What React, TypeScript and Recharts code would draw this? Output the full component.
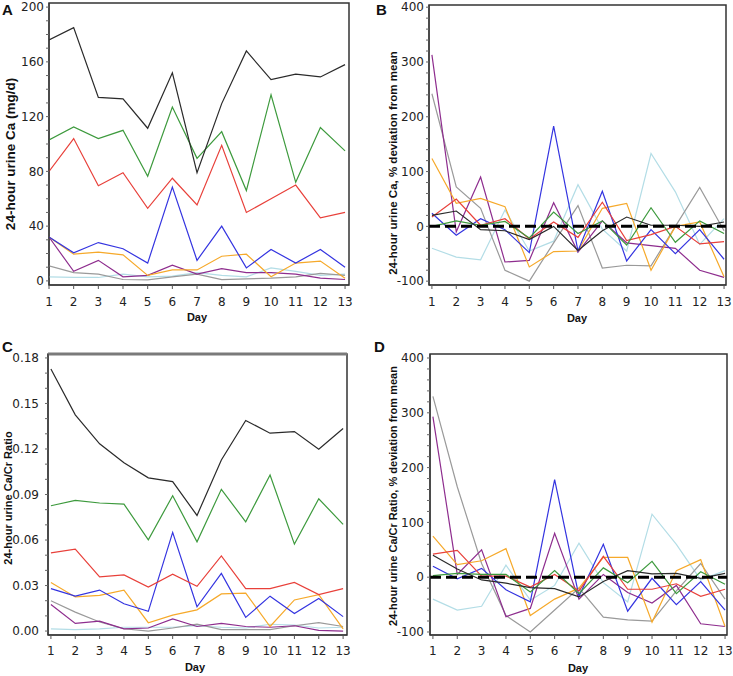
import React from 'react';
import { LineChart, Line, XAxis, YAxis, ReferenceLine, ReferenceArea } from 'recharts';

const days = [1, 2, 3, 4, 5, 6, 7, 8, 9, 10, 11, 12, 13];

// Panel A: 24-hour urine Ca (mg/d)
const caBlack = [176, 185, 134, 133, 111.5, 152, 79, 129.5, 168, 147, 151, 149, 158];
const caGreen = [103, 112.5, 104, 110, 76.5, 127, 89.5, 109, 66, 136, 72, 112, 95];
const caRed = [80, 104, 69.5, 79, 53, 75, 55.5, 99, 50, 60, 70, 46, 50];
const caBlue = [32, 20.5, 28, 23.5, 13, 68.5, 15, 40, 9.5, 23, 13, 23, 10];
const caOrange = [32, 19.5, 21, 19, 4, 8, 8, 18, 19.5, 3, 13, 14.5, 2];
const caPurple = [32, 7, 15, 3, 4, 11.5, 5, 9, 6, 6, 5, 2, 1];
const caGray = [11, 6, 5, 1, 0.7, 3, 5, 1, 1.5, 2, 3, 5.5, 4];
const caLightBlue = [3, 2.5, 2.5, 5, 3, 3.5, 6, 4, 3, 9.5, 7, 4, 5];

// Panel B: 24-hour urine Ca, % deviation from mean
const devBlack = [20, 28, -6, -8, -24, 0, -44, -8, 17, 2, 2, 0, 8];
const devGreen = [0, 10, 2, 9, -21, 26, -13, 10, -34, 34, -29, 10, -13];
const devRed = [17, 50, 2, 14, -23, 8, -20, 44, -26, -15, 0, -32, -28];
const devBlue = [24, -16, 14, -6, -48, 183, -45, 64, -63, -6, -50, -6, -60];
const devOrange = [124, 42, 51, 36, -74, -46, -45, 33, 42, -80, 0, 8, -92];
const devPurple = [313, -10, 90, -65, -62, 43, -47, 10, -30, -35, -40, -80, -93];
const devGray = [242, 72, 33, -80, -100, -30, 38, -76, -71, -72, 0, 71, -8];
const devLightBlue = [-40, -56, -61, 30, -45, -27, 76, -5, -45, 133, 63, -33, 14];

// Panel C: 24-hour urine Ca/Cr ratio
const ratioBlack = [0.1727, 0.1425, 0.1234, 0.111, 0.101, 0.0985, 0.0762, 0.1128, 0.1388, 0.1304, 0.1315, 0.1198, 0.1335];
const ratioGreen = [0.0826, 0.0861, 0.0844, 0.0837, 0.0601, 0.0892, 0.0588, 0.0934, 0.072, 0.1029, 0.0573, 0.0872, 0.0703];
const ratioRed = [0.0515, 0.054, 0.0357, 0.037, 0.029, 0.0375, 0.0295, 0.0495, 0.028, 0.028, 0.032, 0.024, 0.028];
const ratioBlue = [0.028, 0.023, 0.027, 0.018, 0.013, 0.065, 0.016, 0.038, 0.009, 0.023, 0.0115, 0.0215, 0.0095];
const ratioOrange = [0.032, 0.0225, 0.0235, 0.027, 0.0055, 0.0105, 0.014, 0.0245, 0.025, 0.003, 0.0205, 0.024, 0.0015];
const ratioPurple = [0.0175, 0.005, 0.0065, 0.0015, 0.002, 0.008, 0.003, 0.005, 0.003, 0.0025, 0.0035, 0.0005, 0.0];
const ratioGray = [0.02, 0.0125, 0.006, 0.0015, 0.0, 0.002, 0.0045, 0.001, 0.001, 0.001, 0.0035, 0.0055, 0.003];
const ratioLightBlue = [0.0015, 0.001, 0.0015, 0.0025, 0.0025, 0.0025, 0.0035, 0.0025, 0.002, 0.0045, 0.004, 0.002, 0.0025];

// Panel D: 24-hour urine Ca/Cr ratio, % deviation from mean
const rdevBlack = [40, 15, -5, -11, -19, -21, -36, -8, 12, 6, 7, -2, 7];
const rdevGreen = [3, 7, 5, 5, -27, 12, -30, 17, -10, 29, -30, 10, -13];
const rdevRed = [42, 49, 2, 2, -18, 5, -25, 38, -22, -22, -12, -35, -22];
const rdevBlue = [20, -3, 16, -23, -45, 178, -35, 60, -62, -2, -50, -8, -60];
const rdevOrange = [75, 23, 30, 52, -70, -40, -20, 36, 36, -82, 12, 32, -90];
const rdevPurple = [293, 5, 50, -72, -57, 80, -40, 5, -28, -47, -15, -85, -90];
const rdevGray = [330, 165, 25, -70, -100, -60, -20, -73, -78, -80, -25, 25, -40];
const rdevLightBlue = [-40, -60, -53, 22, -42, -15, 62, -10, -45, 115, 60, -5, 12];

const caTicks = [0, 40, 80, 120, 160, 200];
const devTicks = [-100, 0, 100, 200, 300, 400];
const ratioTicks = [0, 0.03, 0.06, 0.09, 0.12, 0.15, 0.18];

const COLORS = {
  lightblue: '#b3dde6',
  gray: '#9a9a9a',
  purple: '#8e2d8e',
  orange: '#f6a92a',
  blue: '#3434e0',
  red: '#e8403a',
  green: '#3d9a3d',
  black: '#2a2a2a',
};

const minorTicks = (lo: number, hi: number, step: number) => {
  const out: number[] = [];
  for (let v = lo; v <= hi + 1e-9; v += step) out.push(Math.round(v * 1e6) / 1e6);
  return out;
};

type S = { key: string; color: string; values: number[] };

const mk = (lb: number[], gy: number[], pu: number[], or: number[], bl: number[], rd: number[], gr: number[], bk: number[]): S[] => [
  { key: 'lightblue', color: COLORS.lightblue, values: lb },
  { key: 'gray', color: COLORS.gray, values: gy },
  { key: 'purple', color: COLORS.purple, values: pu },
  { key: 'orange', color: COLORS.orange, values: or },
  { key: 'blue', color: COLORS.blue, values: bl },
  { key: 'red', color: COLORS.red, values: rd },
  { key: 'green', color: COLORS.green, values: gr },
  { key: 'black', color: COLORS.black, values: bk },
];

const tickFont = { fontSize: 12, fill: '#222', fontFamily: 'DejaVu Sans' };

function Panel(props: any) {
  const {
    left, top, width, height, margin, yWidth, xHeight, xDomain, yDomain,
    yAll, yMajor, yFmt, series, zeroLine, yTickMargin, xTickMargin, thickTop,
  } = props;
  const data = days.map((d, i) => {
    const row: any = { day: d };
    series.forEach((s: S) => { row[s.key] = s.values[i]; });
    return row;
  });
  const isMajor = (v: number) => yMajor.some((m: number) => Math.abs(m - v) < 1e-9);
  return (
    <div style={{ position: 'absolute', left, top, width, height }}>
      <LineChart width={width} height={height} data={data} margin={margin}>
        <XAxis
          dataKey="day"
          type="number"
          domain={xDomain}
          ticks={days}
          allowDataOverflow
          interval={0}
          height={xHeight}
          tickSize={4}
          tickMargin={xTickMargin}
          tick={tickFont}
          axisLine={{ stroke: '#333' }}
          tickLine={{ stroke: '#555' }}
        />
        <YAxis
          type="number"
          domain={yDomain}
          ticks={yAll}
          allowDataOverflow
          interval={0}
          width={yWidth}
          tickSize={3}
          tickMargin={yTickMargin}
          tickFormatter={(v: number) => (isMajor(v) ? yFmt(v) : '')}
          tick={tickFont}
          axisLine={{ stroke: '#333' }}
          tickLine={{ stroke: '#666' }}
        />
        <ReferenceArea
          x1={xDomain[0]}
          x2={xDomain[1]}
          y1={yDomain[0]}
          y2={yDomain[1]}
          fill="none"
          fillOpacity={0}
          stroke="#333"
          strokeWidth={1.5}
          ifOverflow="visible"
        />
        {series.map((s: S) => (
          <Line
            key={s.key}
            type="linear"
            dataKey={s.key}
            stroke={s.color}
            strokeWidth={1.2}
            dot={false}
            activeDot={false}
            isAnimationActive={false}
          />
        ))}
        {zeroLine && (
          <ReferenceLine y={0} stroke="#000" strokeWidth={3} strokeDasharray="11 5" ifOverflow="visible" />
        )}
        {thickTop && (
          <ReferenceLine y={yDomain[1]} stroke="#7a7a7a" strokeWidth={3} ifOverflow="visible" />
        )}
      </LineChart>
    </div>
  );
}

const labelStyle = { fontFamily: 'Liberation Sans, Arial, sans-serif', fontWeight: 700, fill: '#111' } as const;

function VLabel({ x, y, size, text }: { x: number; y: number; size: number; text: string }) {
  return (
    <text
      x={x}
      y={y}
      transform={`rotate(-90 ${x} ${y})`}
      textAnchor="middle"
      dominantBaseline="central"
      fontSize={size}
      style={labelStyle}
    >
      {text}
    </text>
  );
}

export default function App() {
  return (
    <div style={{ position: 'absolute', left: 0, top: 0, width: 733, height: 676, background: '#fff' }}>
      <Panel
        left={0} top={0} width={365} height={335}
        margin={{ top: 3, right: 16, bottom: 0, left: 0 }}
        yWidth={49} xHeight={50}
        xDomain={[1, 13.16]} yDomain={[-3, 203]}
        yAll={minorTicks(0, 200, 10)} yMajor={caTicks} yFmt={(v: number) => String(v)}
        series={mk(caLightBlue, caGray, caPurple, caOrange, caBlue, caRed, caGreen, caBlack)}
        yTickMargin={2} xTickMargin={8}
      />
      <Panel
        left={365} top={0} width={368} height={335}
        margin={{ top: 5, right: 7, bottom: 0, left: 0 }}
        yWidth={64} xHeight={50}
        xDomain={[0.88, 13.08]} yDomain={[-107, 404]}
        yAll={minorTicks(-100, 400, 20)} yMajor={devTicks} yFmt={(v: number) => String(v)}
        series={mk(devLightBlue, devGray, devPurple, devOrange, devBlue, devRed, devGreen, devBlack)}
        zeroLine yTickMargin={2} xTickMargin={8}
      />
      <Panel
        left={0} top={335} width={365} height={341}
        margin={{ top: 19, right: 18, bottom: 0, left: 0 }}
        yWidth={48} xHeight={41}
        xDomain={[0.88, 13.16]} yDomain={[-0.0026, 0.1826]}
        yAll={minorTicks(0, 0.18, 0.01)} yMajor={ratioTicks} yFmt={(v: number) => v.toFixed(2)}
        series={mk(ratioLightBlue, ratioGray, ratioPurple, ratioOrange, ratioBlue, ratioRed, ratioGreen, ratioBlack)}
        yTickMargin={6} xTickMargin={7} thickTop
      />
      <Panel
        left={365} top={335} width={368} height={341}
        margin={{ top: 19, right: 6, bottom: 0, left: 0 }}
        yWidth={65} xHeight={41}
        xDomain={[0.88, 13.08]} yDomain={[-105.5, 407.3]}
        yAll={minorTicks(-100, 400, 20)} yMajor={devTicks} yFmt={(v: number) => String(v)}
        series={mk(rdevLightBlue, rdevGray, rdevPurple, rdevOrange, rdevBlue, rdevRed, rdevGreen, rdevBlack)}
        zeroLine yTickMargin={3} xTickMargin={7}
      />
      <svg width={733} height={676} style={{ position: 'absolute', left: 0, top: 0, pointerEvents: 'none' }}>
        <text x={2} y={15} fontSize={15} style={labelStyle}>A</text>
        <text x={376} y={15} fontSize={15} style={labelStyle}>B</text>
        <text x={2} y={352} fontSize={15} style={labelStyle}>C</text>
        <text x={374} y={352} fontSize={15} style={labelStyle}>D</text>
        <VLabel x={10} y={154} size={13.5} text="24-hour urine Ca (mg/d)" />
        <VLabel x={393} y={163} size={11.5} text="24-hour urine Ca, % deviation from  mean" />
        <VLabel x={8} y={498} size={11} text="24-hour urine Ca/Cr Ratio" />
        <VLabel x={393} y={496} size={11} text="24-hour urine Ca/Cr Ratio, % deviation from mean" />
        <text x={197} y={317} fontSize={11} textAnchor="middle" dominantBaseline="central" style={labelStyle}>Day</text>
        <text x={577} y={318} fontSize={11} textAnchor="middle" dominantBaseline="central" style={labelStyle}>Day</text>
        <text x={195} y={667} fontSize={11} textAnchor="middle" dominantBaseline="central" style={labelStyle}>Day</text>
        <text x={578} y={668} fontSize={11} textAnchor="middle" dominantBaseline="central" style={labelStyle}>Day</text>
      </svg>
    </div>
  );
}
